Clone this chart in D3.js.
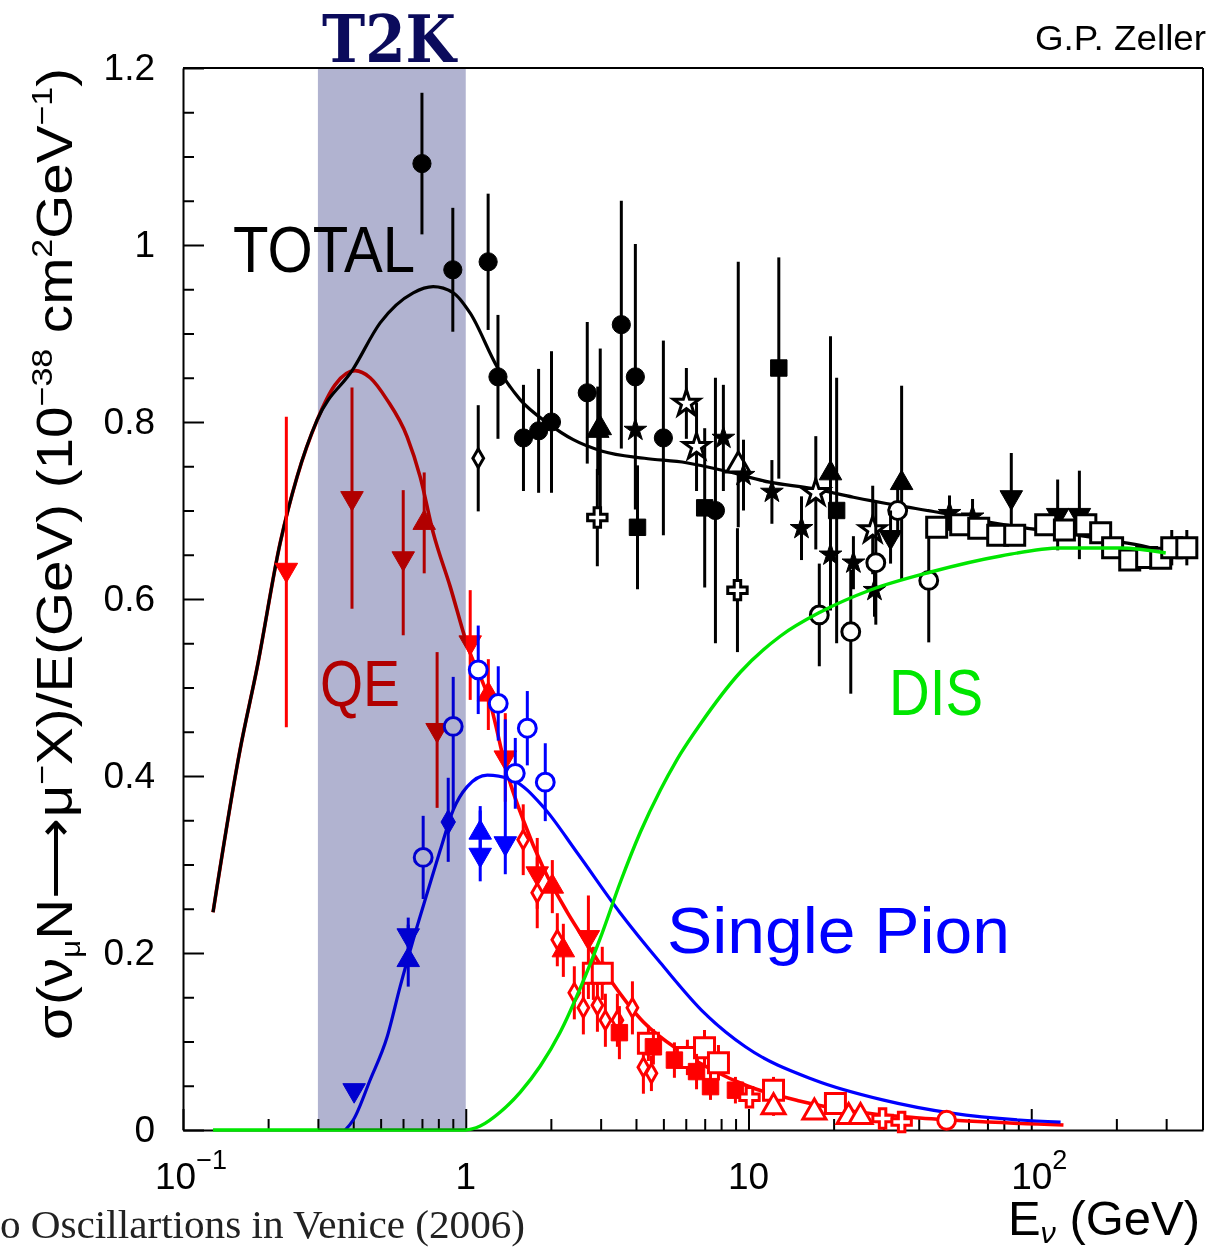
<!DOCTYPE html>
<html><head><meta charset="utf-8">
<script src="https://cdn.jsdelivr.net/npm/d3@7"></script>
<style>body{margin:0;background:#fff}svg{display:block}</style>
</head><body><svg id="c" width="1214" height="1249"></svg>
<script>
// ---------- DATA ----------
const xMajorTicks = [0.1, 1, 10, 100];
const xTickBase = ["10", "1", "10", "10"];
const xTickExp = ["\u22121", "", "", "2"];
const yMajorTicks = [0, 0.2, 0.4, 0.6, 0.8, 1.0, 1.2];
const yTickLabels = ["0", "0.2", "0.4", "0.6", "0.8", "1", "1.2"];
const t2kBand = [0.3, 1.0];

// curves [E, sigma/E]
const totalCurve = [[0.1277,0.246],[0.159,0.429],[0.183,0.523],[0.2205,0.663],[0.2532,0.738],[0.298,0.802],[0.40,0.860],[0.498,0.912],[0.652,0.946],[0.767,0.953],[0.904,0.946],[1.037,0.923],[1.293,0.862],[1.56,0.825],[1.944,0.799],[2.40,0.780],[3.04,0.767],[4.285,0.759],[6.03,0.754],[8.43,0.744],[11.87,0.732],[16.7,0.725],[23.5,0.715],[33.2,0.706],[46.7,0.698],[65.2,0.689],[91.8,0.681],[129.3,0.675],[182,0.667],[256,0.659],[304,0.652]];
const qeCurve = [[0.1277,0.246],[0.159,0.429],[0.183,0.523],[0.2205,0.663],[0.2532,0.738],[0.298,0.802],[0.345,0.842],[0.406,0.858],[0.459,0.850],[0.527,0.825],[0.621,0.783],[0.690,0.738],[0.767,0.675],[0.881,0.614],[1.012,0.548],[1.221,0.482],[1.402,0.403],[1.598,0.350],[1.881,0.296],[2.287,0.246],[2.692,0.210],[3.247,0.1695],[4.249,0.122],[5.65,0.0904],[7.46,0.0678],[9.92,0.0497],[15.15,0.0328],[22.96,0.0215],[40.3,0.0136],[70.7,0.009],[130,0.0056]];
const pionCurve = [[0.3747,0],[0.400,0.0113],[0.459,0.0565],[0.527,0.105],[0.586,0.162],[0.652,0.215],[0.731,0.268],[0.812,0.316],[0.904,0.362],[1.012,0.388],[1.192,0.401],[1.473,0.395],[1.881,0.365],[2.481,0.313],[3.524,0.245],[4.88,0.189],[6.99,0.132],[9.75,0.094],[17.1,0.0565],[29.8,0.034],[52.3,0.019],[91,0.0113],[127,0.009]];
const disCurve = [[0.1277,0],[1.0,0],[1.125,0.0045],[1.325,0.0203],[1.56,0.0429],[1.835,0.0723],[2.16,0.1107],[2.543,0.1605],[2.993,0.2170],[3.524,0.2802],[4.147,0.3367],[4.88,0.3842],[5.745,0.4249],[6.76,0.4588],[9.37,0.5175],[12.98,0.5582],[17.98,0.5853],[27.0,0.6102],[44.1,0.6305],[78.0,0.6486],[127.2,0.6576],[207,0.6576],[299,0.6520]];

// data points [E, sigma/E, errLow, errHigh]
const totFilledCircle = [[0.70,1.092,0.08,0.08],[0.90,0.972,0.07,0.07],[1.20,0.981,0.077,0.077],[1.30,0.851,0.07,0.07],[1.60,0.782,0.06,0.06],[1.81,0.790,0.07,0.07],[2.01,0.800,0.08,0.08],[2.69,0.833,0.08,0.08],[3.55,0.910,0.14,0.14],[3.98,0.851,0.15,0.15],[5.00,0.782,0.11,0.11],[7.64,0.700,0.15,0.15]];
const totFilledSquare = [[4.05,0.681,0.07,0.07],[7.0,0.703,0.09,0.09],[12.8,0.861,0.125,0.125],[20.5,0.70,0.15,0.15]];
const totFilledTri = [[2.93,0.79,0.05,0.05],[2.99,0.793,0.09,0.09],[19.5,0.742,0.155,0.155],[34.8,0.731,0.11,0.11]];
const totOpenTri = [[9.2,0.751,0.07,0.23]];
const totFilledStar = [[3.98,0.791,0,0],[8.15,0.782,0.06,0.06],[9.6,0.74,0.04,0.04],[12.1,0.721,0.036,0.036],[15.4,0.680,0.036,0.036],[19.5,0.650,0.04,0.04],[23.5,0.641,0.03,0.03],[27.9,0.610,0.03,0.03],[51.4,0.697,0.02,0.02],[62,0.693,0.02,0.02]];
const totOpenStar = [[6.03,0.821,0.04,0.04],[6.55,0.772,0.05,0.05],[17.3,0.72,0.064,0.064],[27.5,0.678,0.05,0.05]];
const totOpenCross = [[2.92,0.692,0.055,0.055],[9.14,0.61,0.07,0.07]];
const totOpenDiamond = [[1.107,0.759,0.06,0.06]];
const totOpenCircle = [[17.8,0.582,0.058,0.058],[23.0,0.563,0.07,0.07],[28.2,0.641,0.07,0.07],[33.7,0.70,0.03,0.03],[43.4,0.621,0.07,0.07]];
const totFilledDownTri = [[31.8,0.67,0.03,0.03],[85,0.715,0.05,0.05],[124,0.695,0.04,0.04],[148,0.695,0.05,0.05]];
const totOpenSquare = [[46.3,0.681,0.01,0.01],[56.3,0.684,0.01,0.01],[65.2,0.680,0.01,0.01],[76.1,0.672,0.01,0.01],[87.4,0.672,0.01,0.01],[112.5,0.684,0.01,0.01],[131,0.678,0.01,0.01],[156,0.684,0.01,0.01],[176,0.675,0.01,0.01],[194,0.658,0.01,0.01],[223,0.644,0.01,0.01],[256,0.647,0.01,0.01],[287,0.646,0.01,0.01],[314,0.658,0.02,0.02],[355,0.658,0.02,0.02]];

const qeFilledDownTri = [[0.232,0.633,0.178,0.173],[0.396,0.714,0.125,0.125],[0.601,0.646,0.087,0.077],[0.792,0.452,0.088,0.088],[1.037,0.551,0.065,0.059],[1.38,0.421,0.05,0.05],[1.79,0.290,0.04,0.04],[2.715,0.218,0.07,0.047]];
const qeFilledTri = [[0.713,0.686,0.057,0.057],[1.202,0.492,0.04,0.04],[2.024,0.275,0.03,0.03],[2.214,0.203,0.03,0.03]];
const qeOpenDiamond = [[1.597,0.328,0.04,0.04],[1.79,0.268,0.04,0.04],[2.108,0.215,0.03,0.03],[2.421,0.155,0.03,0.03],[2.606,0.138,0.03,0.03],[2.922,0.141,0.03,0.03],[3.118,0.124,0.03,0.03],[3.438,0.124,0.03,0.03],[3.886,0.138,0.03,0.03],[4.249,0.071,0.03,0.03],[4.536,0.064,0.02,0.02]];
const qeOpenSquare = [[2.827,0.177,0.03,0.03],[3.04,0.177,0.03,0.03],[4.426,0.098,0.02,0.02],[6.08,0.082,0.02,0.02],[6.99,0.093,0.02,0.02],[7.83,0.076,0.02,0.02],[12.26,0.045,0.015,0.015],[20.3,0.030,0.012,0.012]];
const qeFilledSquare = [[3.495,0.110,0.03,0.03],[4.61,0.094,0.02,0.02],[5.47,0.079,0.02,0.02],[6.55,0.066,0.02,0.02],[7.34,0.049,0.015,0.015],[8.99,0.045,0.015,0.015]];
const qeOpenCross = [[10.08,0.037,0.012,0.012],[29.8,0.013,0.008,0.008],[34.8,0.009,0.008,0.008]];
const qeOpenTri = [[12.26,0.026,0.01,0.01],[17.1,0.020,0.008,0.008],[22.6,0.015,0.008,0.008],[24.9,0.015,0.008,0.008]];
const qeOpenCircle = [[50.2,0.011,0.008,0.008]];

const pionFilledDownTri = [[0.403,0.045,0,0],[0.626,0.220,0.02,0.02],[1.125,0.311,0.03,0.05],[1.38,0.324,0.035,0.14]];
const pionFilledTri = [[0.626,0.192,0.03,0.04],[1.125,0.336,0.03,0.03]];
const pionOpenCircle = [[0.707,0.308,0.047,0.047],[0.903,0.456,0.094,0.056],[1.107,0.52,0.05,0.05],[1.303,0.482,0.042,0.042],[1.497,0.403,0.04,0.04],[1.651,0.454,0.042,0.042],[1.911,0.393,0.044,0.044]];
const pionFilledDiamond = [[0.867,0.348,0.045,0.05]];

// ---------- STYLE / LAYOUT ----------
const BLACK = "#000000", RED = "#ff0000", BLUE = "#0000ff", GREEN = "#00e600";
const seriesList = [
  {d: totFilledCircle, c: BLACK, m: "fc"}, {d: totFilledSquare, c: BLACK, m: "fs"},
  {d: totFilledTri, c: BLACK, m: "ft"}, {d: totOpenTri, c: BLACK, m: "ot"},
  {d: totFilledStar, c: BLACK, m: "fst"}, {d: totOpenStar, c: BLACK, m: "ost"},
  {d: totOpenCross, c: BLACK, m: "ox"}, {d: totOpenDiamond, c: BLACK, m: "od"},
  {d: totOpenCircle, c: BLACK, m: "oc"}, {d: totFilledDownTri, c: BLACK, m: "fdt"},
  {d: totOpenSquare, c: BLACK, m: "os"},
  {d: qeFilledDownTri, c: RED, m: "fdt"}, {d: qeFilledTri, c: RED, m: "ft"},
  {d: qeOpenDiamond, c: RED, m: "od"}, {d: qeOpenSquare, c: RED, m: "os"},
  {d: qeFilledSquare, c: RED, m: "fs"}, {d: qeOpenCross, c: RED, m: "ox"},
  {d: qeOpenTri, c: RED, m: "ot"}, {d: qeOpenCircle, c: RED, m: "oc"},
  {d: pionFilledDownTri, c: BLUE, m: "fdt"}, {d: pionFilledTri, c: BLUE, m: "ft"},
  {d: pionOpenCircle, c: BLUE, m: "oc"}, {d: pionFilledDiamond, c: BLUE, m: "fdia"}
];
const markerDefs = {
  fc: {t: d3.symbolCircle, s: 260, f: true}, oc: {t: d3.symbolCircle, s: 250, f: false},
  fs: {t: d3.symbolSquare, s: 270, f: true}, os: {t: d3.symbolSquare, s: 400, f: false},
  ft: {t: d3.symbolTriangle, s: 220, f: true}, ot: {t: d3.symbolTriangle, s: 230, f: false},
  fdt: {t: d3.symbolTriangle, s: 220, f: true, r: 180},
  fst: {t: d3.symbolStar, s: 160, f: true}, ost: {t: d3.symbolStar, s: 210, f: false},
  ox: {t: d3.symbolCross, s: 210, f: false}, od: {t: d3.symbolDiamond, s: 100, f: false},
  fdia: {t: d3.symbolDiamond, s: 180, f: true}
};

const svg = d3.select("#c");
svg.append("rect").attr("width", 1214).attr("height", 1249).attr("fill", "#fff");
const x = d3.scaleLog().domain([0.1, 405]).range([183, 1203]);
const y = d3.scaleLinear().domain([0, 1.2]).range([1130, 68]);
const font = "'Liberation Sans', Arial, sans-serif";

// frame (top/right)
svg.append("line").attr("x1", x.range()[0]).attr("x2", x.range()[1]).attr("y1", y(1.2)).attr("y2", y(1.2)).attr("stroke", "#000").attr("stroke-width", 2);
svg.append("line").attr("x1", x.range()[1]).attr("x2", x.range()[1]).attr("y1", y(1.2)).attr("y2", y(0)).attr("stroke", "#000").attr("stroke-width", 2);

// x axis
const xMinor = [];
[0.1, 1, 10, 100].forEach(dec => { for (let k = 2; k <= 9; k++) { const v = k * dec; if (v < 390) xMinor.push(v); } });
const gx = svg.append("g").attr("transform", `translate(0,${y(0)})`);
gx.call(d3.axisBottom(x).tickValues(xMajorTicks).tickSizeInner(-21).tickSizeOuter(0).tickFormat(""));
gx.append("g").call(d3.axisBottom(x).tickValues(xMinor).tickSizeInner(-11).tickSizeOuter(0).tickFormat("")).select(".domain").remove();
gx.selectAll("line").attr("stroke-width", 2);
gx.select(".domain").attr("stroke-width", 2);
xMajorTicks.forEach((v, i) => {
  const t = svg.append("text").attr("font-family", font).attr("font-size", 37).attr("fill", "#000")
    .attr("text-anchor", "middle").attr("x", x(v) + (xTickExp[i] ? 8 : 0)).attr("y", 1189);
  t.append("tspan").text(xTickBase[i]);
  if (xTickExp[i]) t.append("tspan").attr("font-size", 27).attr("dy", -20).text(xTickExp[i]);
});

// y axis
const yMinor = d3.range(0, 1.2001, 0.05).filter(v => Math.abs(v * 5 - Math.round(v * 5)) > 1e-6);
const gy = svg.append("g").attr("transform", `translate(${x.range()[0]},0)`);
gy.call(d3.axisLeft(y).tickValues(yMajorTicks).tickSizeInner(-21).tickSizeOuter(0).tickPadding(28)
  .tickFormat((d, i) => yTickLabels[i]));
gy.append("g").call(d3.axisLeft(y).tickValues(yMinor).tickSizeInner(-11).tickSizeOuter(0).tickFormat("")).select(".domain").remove();
gy.selectAll("line").attr("stroke-width", 2);
gy.select(".domain").attr("stroke-width", 2);
gy.selectAll("text").attr("font-family", font).attr("font-size", 37).attr("fill", "#000");

// curves (QE under TOTAL)
const line = d3.line().x(d => x(d[0])).y(d => y(d[1])).curve(d3.curveMonotoneX);
const curveG = svg.append("g").attr("fill", "none").attr("stroke-width", 3.2);
curveG.append("path").attr("d", line(qeCurve)).attr("stroke", RED).attr("stroke-width", 3.6);
curveG.append("path").attr("d", line(totalCurve)).attr("stroke", BLACK);
curveG.append("path").attr("d", line(pionCurve)).attr("stroke", BLUE);

// data points
const dataG = svg.append("g");
seriesList.forEach(s => {
  const md = markerDefs[s.m];
  const g = dataG.append("g");
  g.selectAll("line").data(s.d.filter(p => p[2] + p[3] > 0)).join("line")
    .attr("x1", p => x(p[0])).attr("x2", p => x(p[0]))
    .attr("y1", p => y(p[1] - p[2])).attr("y2", p => y(p[1] + p[3]))
    .attr("stroke", s.c).attr("stroke-width", 3);
  g.selectAll("path").data(s.d).join("path")
    .attr("d", d3.symbol(md.t, md.s)())
    .attr("transform", p => `translate(${x(p[0])},${y(p[1])})` + (md.r ? ` rotate(${md.r})` : ""))
    .attr("fill", md.f ? s.c : "#fff").attr("stroke", s.c).attr("stroke-width", md.f ? 1 : 3);
});

// DIS curve on top
svg.append("path").attr("d", line(disCurve)).attr("fill", "none").attr("stroke", GREEN).attr("stroke-width", 3.4);

// labels
function label(txt, xx, yy, size, color, len, fam) {
  return svg.append("text").attr("x", xx).attr("y", yy).attr("font-family", fam || font).attr("font-size", size)
    .attr("fill", color).attr("textLength", len).attr("lengthAdjust", "spacingAndGlyphs").text(txt);
}
label("TOTAL", 233, 272, 64, BLACK, 182);
label("QE", 320, 706, 64, RED, 80);
label("Single Pion", 667, 953, 64, BLUE, 343);
label("DIS", 889, 715, 64, GREEN, 94);
label("G.P. Zeller", 1035, 50, 35, BLACK, 171);
label("T2K", 322, 62, 66, "#0b0b5c", 134, "'DejaVu Serif', serif").attr("font-weight", "bold");
label("o Oscillartions in Venice (2006)", 0, 1238, 40, "#222", 525, "'Liberation Serif', 'DejaVu Serif', serif");

// x title
const xt = svg.append("text").attr("x", 1008).attr("y", 1235).attr("font-family", font).attr("font-size", 48)
  .attr("fill", "#000").attr("textLength", 192).attr("lengthAdjust", "spacingAndGlyphs");
xt.append("tspan").text("E");
xt.append("tspan").attr("font-size", 30).attr("font-style", "italic").attr("dy", 8).text("\u03bd");
xt.append("tspan").attr("dy", -8).text(" (GeV)");

// y title
const yt = svg.append("text").attr("transform", "translate(72,1040) rotate(-90)").attr("font-family", font)
  .attr("font-size", 50).attr("fill", "#000").attr("textLength", 972).attr("lengthAdjust", "spacingAndGlyphs");
yt.append("tspan").text("\u03c3(\u03bd");
yt.append("tspan").attr("font-size", 28).attr("dy", 8).text("\u03bc");
yt.append("tspan").attr("dy", -8).text("N\u27f6\u03bc");
yt.append("tspan").attr("font-size", 30).attr("dy", -20).text("\u2212");
yt.append("tspan").attr("dy", 20).text("X)/E(GeV)  (10");
yt.append("tspan").attr("font-size", 30).attr("dy", -20).text("\u221238");
yt.append("tspan").attr("dy", 20).text(" cm");
yt.append("tspan").attr("font-size", 30).attr("dy", -20).text("2");
yt.append("tspan").attr("dy", 20).text("GeV");
yt.append("tspan").attr("font-size", 30).attr("dy", -20).text("\u22121");
yt.append("tspan").attr("dy", 20).text(")");

// T2K band (multiplied over everything inside it)
svg.append("rect").attr("x", x(t2kBand[0])).attr("width", x(t2kBand[1]) - x(t2kBand[0]))
  .attr("y", y(1.2)).attr("height", y(0) - y(1.2))
  .attr("fill", "#b1b3d0").style("mix-blend-mode", "multiply");
</script></body></html>
